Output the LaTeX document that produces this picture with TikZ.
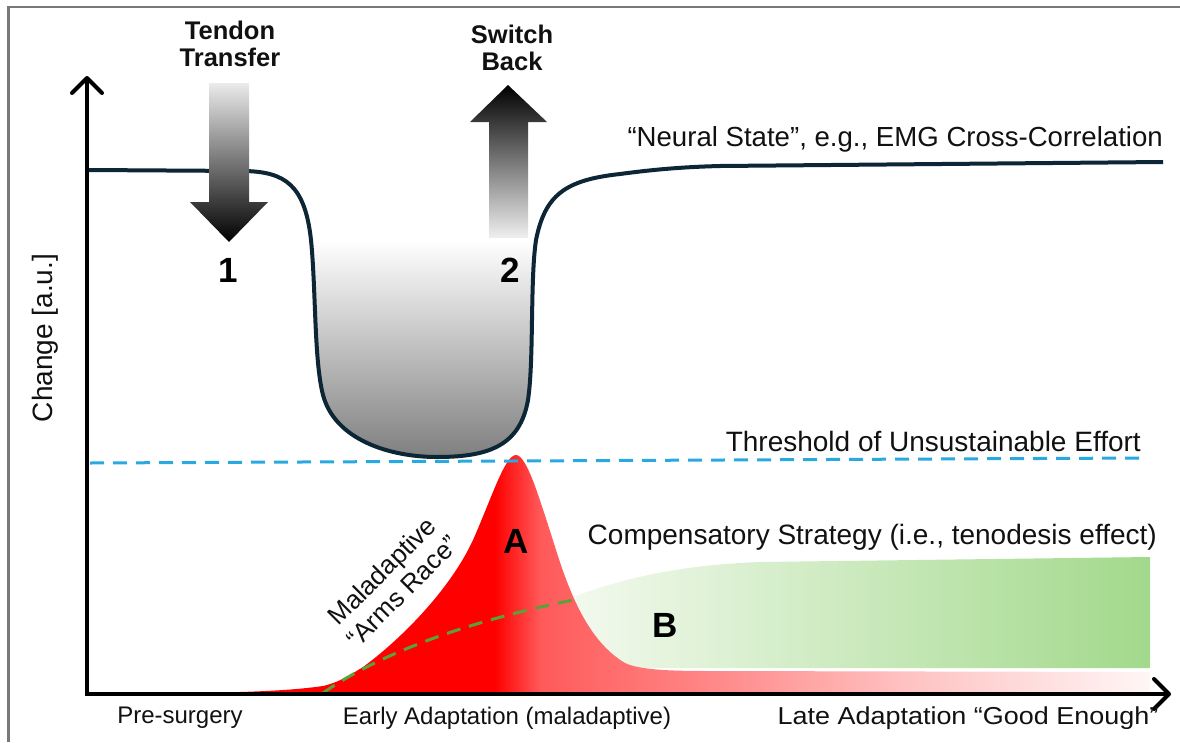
\documentclass[tikz,border=0pt]{standalone}
\usepackage{fontspec}
\setmainfont{Liberation Sans}
\usetikzlibrary{arrows.meta}
\definecolor{navy}{HTML}{0C2636}
\definecolor{cyanl}{HTML}{2AA9E0}
\definecolor{gdash}{HTML}{5BA03A}
\definecolor{frame}{HTML}{787878}
\definecolor{rA}{HTML}{FF0000}
\definecolor{rB}{HTML}{FF5A5A}
\definecolor{rC}{HTML}{FF8484}
\definecolor{rD}{HTML}{FFC0C0}
\definecolor{rE}{HTML}{FFF6F6}
\definecolor{gL}{HTML}{F4FAF0}
\definecolor{gR}{HTML}{A2D98B}
\definecolor{txt}{HTML}{111111}
\pgfdeclarehorizontalshading{redfade}{100bp}{color(0bp)=(rA); color(40.7bp)=(rA); color(43.1bp)=(rB); color(51.4bp)=(rC); color(61.9bp)=(rD); color(75bp)=(rE); color(100bp)=(rE)}
\tikzset{
  lbl/.style={font=\fontsize{28}{30}\selectfont, text=txt, inner sep=0pt},
  btm/.style={font=\fontsize{24}{26}\selectfont, text=txt, inner sep=0pt},
  big/.style={font=\bfseries\fontsize{35}{37}\selectfont, text=black, inner sep=0pt},
  ttl/.style={font=\bfseries\fontsize{25.5}{27}\selectfont, text=txt, align=center, inner sep=0pt},
  axis/.style={line width=4pt, black, -{Straight Barb[length=15pt,width=30pt,line cap=round,line join=round]}},
  dashline/.style={line width=3pt, dash pattern=on 14pt off 9pt}
}
\begin{document}
\begin{tikzpicture}[x=1pt,y=-1pt]
\useasboundingbox (0,0) rectangle (1180,742);
\fill[white] (0,0) rectangle (1180,742);
% frame
\draw[frame, line width=2.5pt] (8.5,742) -- (8.5,7) -- (1180,7);

% green region
\shade[left color=gL, right color=gR]
  (560,602) .. controls (620,578) and (680,565) .. (760,562) -- (1150,557)
  -- (1150,668) -- (600,668) -- cycle;

% red region
\shade[shading=redfade]
  (195,693) .. controls (260,692) and (295,690) .. (323,686)
  .. controls (340,682) and (350,675) .. (363,667)
  .. controls (400,640) and (450,590) .. (473,540)
  .. controls (492,497) and (505,455) .. (516,455)
  .. controls (527,455) and (540,500) .. (557,553)
  .. controls (575,610) and (595,645) .. (625,663)
  .. controls (640,670) and (670,671) .. (710,671)
  -- (1150,672) -- (1150,693) -- cycle;

% green dashed
\draw[gdash, dashline] (323,693) .. controls (370,660) and (450,625) .. (573,600);

% well fill
\shade[top color=white, bottom color=black!50]
  (311,240) .. controls (316,290) and (314,360) .. (323,395)
  .. controls (335,440) and (390,457) .. (437,457)
  .. controls (490,457) and (520,445) .. (528,400)
  .. controls (534,360) and (530,280) .. (536,240) -- cycle;

% neural curve
\draw[navy, line width=4pt, line join=round]
  (89,170) -- (245,171) .. controls (285,172) and (305,185) .. (311,240)
  .. controls (316,290) and (314,360) .. (323,395)
  .. controls (335,440) and (390,457) .. (437,457)
  .. controls (490,457) and (520,445) .. (528,400)
  .. controls (534,360) and (530,280) .. (536,240)
  .. controls (545,195) and (565,180) .. (620,174)
  .. controls (650,170) and (680,167) .. (720,166) -- (1163,162);

% threshold
\draw[cyanl, dashline] (90,463) -- (1143,458);

% axes
\coordinate (Ytop) at (87,76);
\coordinate (Xend) at (1171,694);
\draw[axis] (87,696) -- (Ytop);
\draw[axis] (85,694) -- (Xend);

% arrows
\shade[top color=black!8, middle color=black, bottom color=black]
  (209,83) -- (249,83) -- (249,202) -- (268,202) -- (229,242) -- (190,202) -- (209,202) -- cycle;
\shade[top color=black, middle color=black, bottom color=black!6]
  (508,85) -- (547,122) -- (528,122) -- (528,238) -- (489,238) -- (489,122) -- (470,122) -- cycle;

% texts
\node[ttl] (tt) at (230,44) {Tendon\\Transfer};
\node[ttl] (sb) at (512,48) {Switch\\Back};
\node[big] (n1) at (228,270) {1};
\node[big] (n2) at (510,270) {2};
\node[big] (nA) at (516,541) {A};
\node[big] (nB) at (665,625) {B};
\node[lbl, anchor=east, font=\fontsize{27.6}{29}\selectfont] (ns) at (1163,139) {“Neural State”, e.g., EMG Cross-Correlation};
\node[lbl, anchor=east] (th) at (1141,441) {Threshold of Unsustainable Effort};
\node[lbl, anchor=east] (cs) at (1157,537) {Compensatory Strategy (i.e., tenodesis effect)};
\node[lbl, rotate=45, align=center, font=\fontsize{26}{29}\selectfont] (ma) at (392,581) {Maladaptive\\“Arms Race”};
\node[lbl, rotate=90] (ch) at (45,338) {Change [a.u.]};
\node[btm] (b1) at (180,718) {Pre-surgery};
\node[btm] (b2) at (507,718) {Early Adaptation (maladaptive)};
\node[btm, font=\fontsize{24.5}{26}\selectfont] (b3) at (968,718) {\scalebox{1.1}[1]{Late Adaptation “Good Enough”}};
\end{tikzpicture}
\end{document}
